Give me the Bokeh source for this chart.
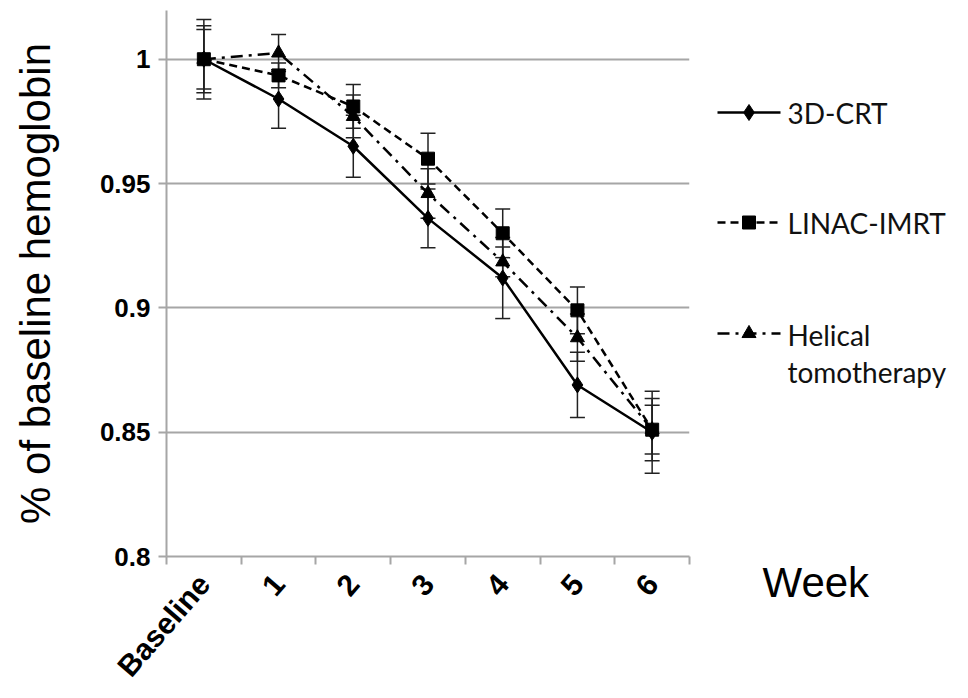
from math import pi
from bokeh.plotting import figure
from bokeh.layouts import row
from bokeh.models import ColumnDataSource, FixedTicker, Whisker, TeeHead, Range1d, Title
from bokeh.core.properties import value
from bokeh.embed import file_html
from bokeh.resources import INLINE

# ---- data ----
weeks = ["Baseline", "1", "2", "3", "4", "5", "6"]
crt = [1.000, 0.984, 0.965, 0.936, 0.912, 0.869, 0.850]
crt_err = [0.0135, 0.0118, 0.0125, 0.0118, 0.0163, 0.0131, 0.0165]
linac = [1.000, 0.9935, 0.981, 0.960, 0.930, 0.899, 0.851]
linac_err = [0.016, 0.005, 0.0088, 0.0102, 0.0098, 0.0094, 0.0125]
helical = [1.000, 1.0025, 0.977, 0.946, 0.9185, 0.888, 0.851]
helical_err = [0.012, 0.0074, 0.0086, 0.0100, 0.0060, 0.0095, 0.0098]
y_ticks = [0.8, 0.85, 0.9, 0.95, 1.0]
y_tick_labels = ["0.8", "0.85", "0.9", "0.95", "1"]
series_names = ["3D-CRT", "LINAC-IMRT", "Helical tomotherapy"]
x_title = "Week"

GRID = "#a6a6a6"
AXFONT = "Liberation Sans"
H = 697
FRAME_BOTTOM = 556

xc = [i + 0.5 for i in range(len(weeks))]
bounds = list(range(len(weeks) + 1))

p = figure(width=698, height=H, output_backend="svg", toolbar_location=None,
           x_range=Range1d(0, len(weeks)), y_range=Range1d(0.8, 1.0196),
           min_border_left=166, min_border_right=9, min_border_top=10,
           min_border_bottom=H - FRAME_BOTTOM)
p.outline_line_color = None
p.xgrid.visible = False
p.ygrid.grid_line_color = GRID
p.ygrid.grid_line_width = 2
p.ygrid.ticker = FixedTicker(ticks=y_ticks)

# y axis
p.yaxis.ticker = FixedTicker(ticks=y_ticks)
p.yaxis.major_label_overrides = {t: l for t, l in zip(y_ticks, y_tick_labels)}
p.yaxis.axis_line_color = GRID
p.yaxis.axis_line_width = 2
p.yaxis.major_tick_line_color = GRID
p.yaxis.major_tick_line_width = 2
p.yaxis.major_tick_out = 8
p.yaxis.major_tick_in = 0
p.yaxis.minor_tick_line_color = None
p.yaxis.major_label_text_font = AXFONT
p.yaxis.major_label_text_font_style = "bold"
p.yaxis.major_label_text_font_size = "26px"
p.yaxis.major_label_text_color = "black"
p.yaxis.major_label_standoff = 8
p.yaxis.axis_label = "% of baseline hemoglobin"
p.yaxis.axis_label_text_font = AXFONT
p.yaxis.axis_label_text_font_style = "normal"
p.yaxis.axis_label_text_font_size = "42px"
p.yaxis.axis_label_text_color = "black"
p.yaxis.axis_label_standoff = 38

# x axis
p.xaxis.ticker = FixedTicker(ticks=xc, minor_ticks=bounds)
p.xaxis.major_label_overrides = {c: w for c, w in zip(xc, weeks)}
p.xaxis.axis_line_color = GRID
p.xaxis.axis_line_width = 2
p.xaxis.major_tick_line_color = None
p.xaxis.major_tick_out = 0
p.xaxis.major_tick_in = 0
p.xaxis.minor_tick_line_color = GRID
p.xaxis.minor_tick_line_width = 2
p.xaxis.minor_tick_out = 8
p.xaxis.minor_tick_in = 0
p.xaxis.major_label_orientation = 0.86
p.xaxis.major_label_text_font = AXFONT
p.xaxis.major_label_text_font_style = "bold"
p.xaxis.major_label_text_font_size = "30px"
p.xaxis.major_label_text_color = "black"
p.xaxis.major_label_standoff = 14

styles = [
    (crt, crt_err, "solid", "diamond", 16),
    (linac, linac_err, "8 5", "square", 13),
    (helical, helical_err, "12 6 3 6", "triangle", 14),
]

for vals, errs, dash, marker, size in styles:
    src = ColumnDataSource(dict(x=xc, y=vals,
                                upper=[v + e for v, e in zip(vals, errs)],
                                lower=[v - e for v, e in zip(vals, errs)]))
    w = Whisker(source=src, base="x", upper="upper", lower="lower",
                dimension="height", line_color="#222222", line_width=1.5,
                upper_head=TeeHead(size=15, line_color="#222222", line_width=1.5),
                lower_head=TeeHead(size=15, line_color="#222222", line_width=1.5))
    p.add_layout(w)

for vals, errs, dash, marker, size in styles:
    src = ColumnDataSource(dict(x=xc, y=vals))
    p.line("x", "y", source=src, line_color="black", line_width=2.5, line_dash=dash)
    p.scatter("x", "y", source=src, marker=marker, size=size,
              fill_color="black", line_color="black")

# ---- legend / side panel (y values = page pixel rows; frame aligned 10..556) ----
L_W = 262
q = figure(width=L_W, height=H, output_backend="svg", toolbar_location=None,
           x_range=Range1d(0, L_W), y_range=Range1d(FRAME_BOTTOM, 10),
           x_axis_type=None, y_axis_type=None,
           min_border_left=0, min_border_right=0,
           min_border_top=10, min_border_bottom=H - FRAME_BOTTOM)
q.outline_line_color = None
q.xgrid.visible = False
q.ygrid.visible = False

leg_rows = [112, 222, 333]
for (vals, errs, dash, marker, size), yy in zip(styles, leg_rows):
    q.line([19, 82], [yy, yy], line_color="black", line_width=2.5, line_dash=dash)
    q.scatter([50.5], [yy], marker=marker, size=size, fill_color="black",
              line_color="black")

LEGFONT = value("Lato")
q.text(x=[89], y=[112], text=[series_names[0]], text_font=LEGFONT,
       text_font_size="28px", text_baseline="middle", text_color="#111111")
q.text(x=[89], y=[222], text=[series_names[1]], text_font=LEGFONT,
       text_font_size="28px", text_baseline="middle", text_color="#111111")
q.text(x=[89, 89], y=[334, 371], text=series_names[2].split(" "), text_font=LEGFONT,
       text_font_size="28px", text_baseline="middle", text_color="#111111")
q.add_layout(Title(text=x_title, align="left", offset=64, standoff=0,
                   text_font=AXFONT, text_font_size="42px",
                   text_font_style="normal", text_color="black"), "below")

layout = row(p, q)
open("out.html", "w").write(file_html(layout, INLINE))
